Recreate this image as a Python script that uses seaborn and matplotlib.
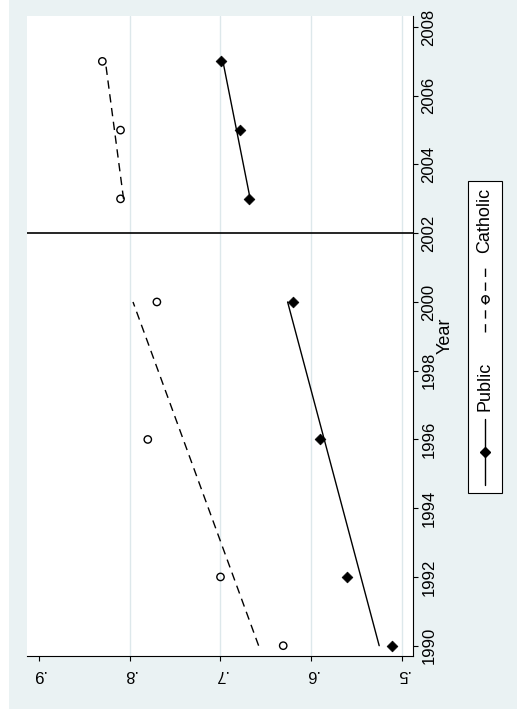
import numpy as np
import pandas as pd
import matplotlib
matplotlib.use("Agg")
import matplotlib.pyplot as plt
import seaborn as sns
from matplotlib.patches import Rectangle
from matplotlib.lines import Line2D

# ---- data ----
years = [1990, 1992, 1996, 2000, 2003, 2005, 2007]
public = [0.511, 0.561, 0.591, 0.620, 0.669, 0.679, 0.699]
catholic = [0.631, 0.700, 0.780, 0.770, 0.810, 0.810, 0.830]
sectors = ["Public", "Catholic"]
break_year = 2002
value_ticks = [0.5, 0.6, 0.7, 0.8, 0.9]
value_labels = [".5", ".6", ".7", ".8", ".9"]
year_ticks = list(range(1990, 2009, 2))
year_title = "Year"

df = pd.DataFrame({
    "year": years * 2,
    "share": public + catholic,
    "sector": [sectors[0]] * len(years) + [sectors[1]] * len(years),
})

sns.set_theme(style="white")
plt.rcParams["font.family"] = ["Liberation Sans", "DejaVu Sans"]

W, H = 517, 711
fig = plt.figure(figsize=(W / 100, H / 100), dpi=100, facecolor="white")
fig.add_artist(Rectangle((9 / W, 2 / H), 1 - 9 / W, 1 - 2 / H, transform=fig.transFigure,
                         facecolor="#eaf2f3", edgecolor="none", zorder=-1))

ax = fig.add_axes([27 / W, 1 - 656 / H, (413 - 27) / W, (656 - 16) / H])
ax.set_facecolor("white")

dash = (0, (6, 4))
styles = {
    "Public": dict(marker="D", s=30, color="black", edgecolor="black", linewidth=0.5),
    "Catholic": dict(marker="o", s=28, facecolor="none", edgecolor="black", linewidth=1.0),
}
line_styles = {"Public": "-", "Catholic": dash}

# fitted lines per period
for sec in sectors:
    sub = df[df.sector == sec]
    for mask in [sub.year < break_year, sub.year > break_year]:
        part = sub[mask]
        b, a = np.polyfit(part.year, part.share, 1)
        yr = np.array([part.year.min(), part.year.max()])
        ax.plot(a + b * yr, yr, color="black", lw=1.0, linestyle=line_styles[sec], zorder=2)

# points
for sec in sectors:
    sns.scatterplot(data=df[df.sector == sec], x="share", y="year", ax=ax,
                    legend=False, zorder=3, **styles[sec])

ax.axhline(break_year, color="black", lw=1.2, zorder=2)

ax.set_xlim(0.9129, 0.4882)
ax.set_ylim(1989.70, 2008.32)
ax.set_xticks(value_ticks)
ax.set_xticklabels(value_labels)
ax.set_yticks(year_ticks)
ax.set_yticklabels([str(y) for y in year_ticks])
ax.set_xlabel("")

ax.yaxis.tick_right()
ax.tick_params(axis="x", bottom=True, length=3.6, width=0.8, color="black", pad=4,
               labelsize=12, labelcolor="black", labelrotation=180, direction="out")
ax.tick_params(axis="y", right=True, left=False, labelright=True, labelleft=False,
               length=3.6, width=0.8, color="black", pad=2.5, labelsize=12,
               labelcolor="black", labelrotation=90, direction="out")
for lbl in ax.get_yticklabels():
    lbl.set_va("center")

ax.set_ylabel(year_title, fontsize=13, color="black")
ax.yaxis.set_label_position("right")
ax.yaxis.set_label_coords((445 - 27) / (413 - 27), 0.5)
ax.yaxis.label.set_rotation(90)
ax.yaxis.label.set_va("center")
ax.yaxis.label.set_ha("center")

for sp in ["left", "top"]:
    ax.spines[sp].set_visible(False)
for sp in ["right", "bottom"]:
    ax.spines[sp].set_color("black")
    ax.spines[sp].set_linewidth(0.8)

ax.xaxis.grid(True, color="#dde8eb", lw=1.0)
ax.yaxis.grid(False)
ax.get_xgridlines()[4].set_visible(False)

# ---- manual rotated legend ----
def fx(px):
    return px / W

def fy(py):
    return 1 - py / H

fig.add_artist(Rectangle((fx(468), fy(493)), 34 / W, (493 - 181) / H, transform=fig.transFigure,
                         facecolor="white", edgecolor="black", lw=0.8, zorder=3))
fig.add_artist(Line2D([fx(485)] * 2, [fy(485), fy(419)], transform=fig.transFigure,
                      color="black", lw=1.0, zorder=4))
fig.add_artist(Line2D([fx(485)], [fy(452)], transform=fig.transFigure, linestyle="none",
                      marker="D", ms=5.6, color="black", zorder=5))
fig.text(fx(485), fy(386), sectors[0], rotation=90, ha="center", va="center", fontsize=13, color="black")
fig.add_artist(Line2D([fx(485)] * 2, [fy(332), fy(267)], transform=fig.transFigure,
                      color="black", lw=1.0, linestyle=dash, zorder=4))
fig.add_artist(Line2D([fx(485)], [fy(299)], transform=fig.transFigure, linestyle="none",
                      marker="o", ms=5.3, mfc="none", mec="black", mew=1.0, zorder=5))
fig.text(fx(485), fy(220.5), sectors[1], rotation=90, ha="center", va="center", fontsize=13, color="black")

fig.savefig("out.png", dpi=100, facecolor="white")
